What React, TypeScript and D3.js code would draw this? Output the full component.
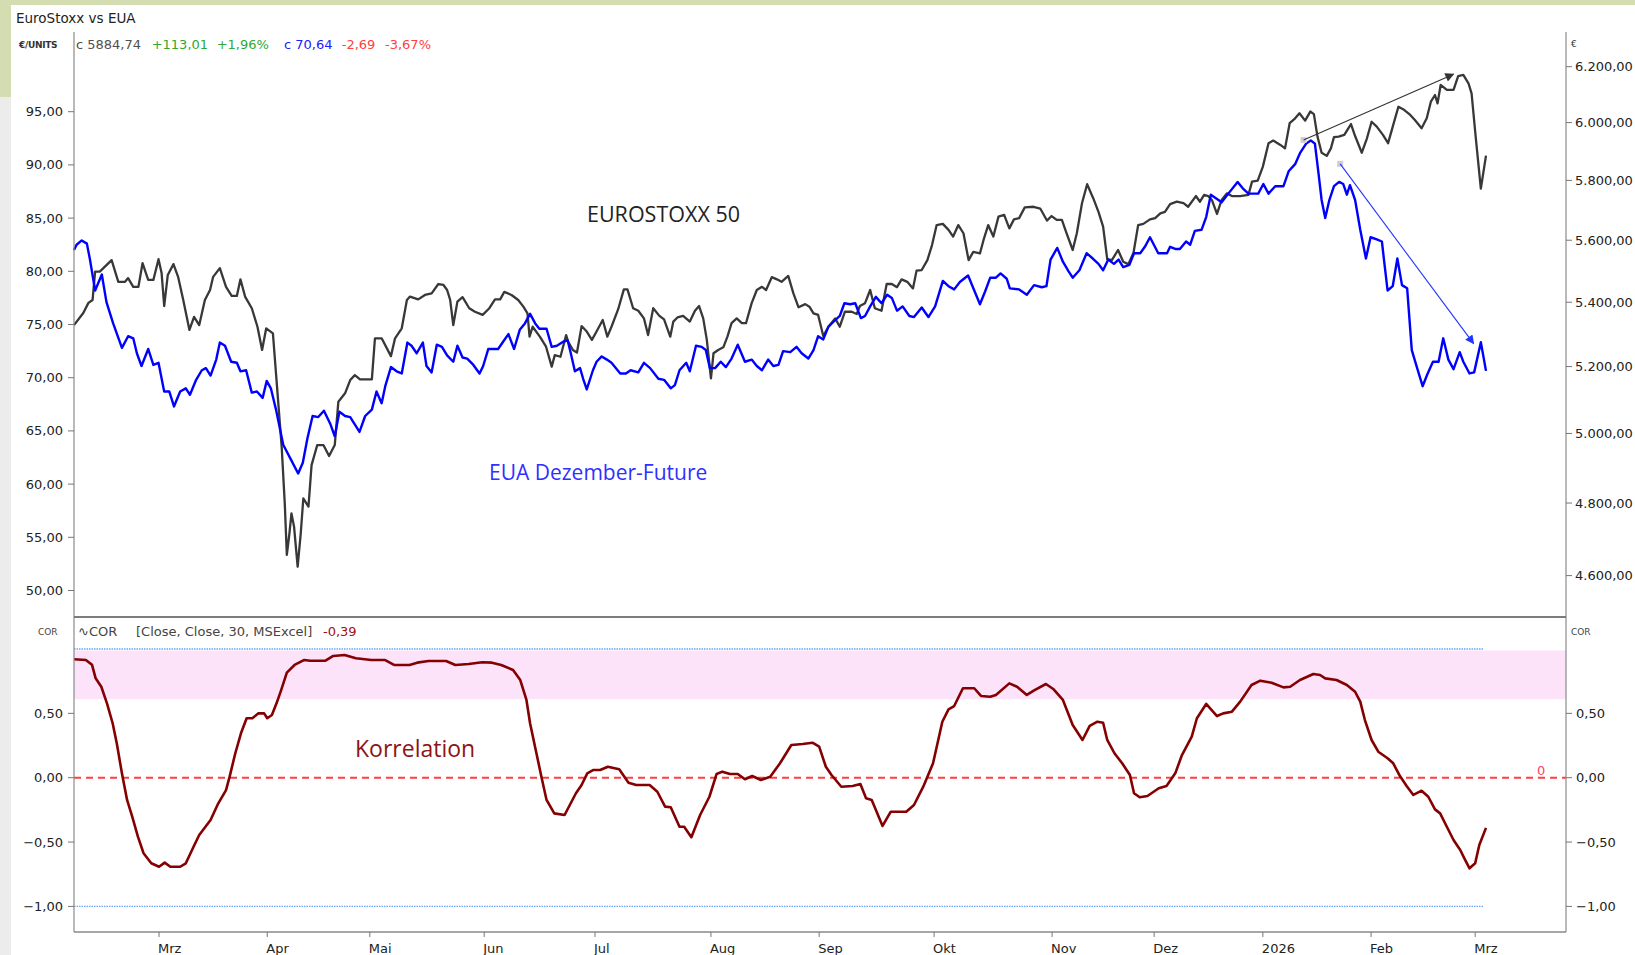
import React from 'react';
import * as d3 from 'd3';

const W = 1635;
const H = 955;

// trading-day index, value
const stoxx: [number, number][] = [[0,5328],[1.8,5366],[2.8,5398],[3.6,5407],[4.1,5498],[5,5498],[6,5514],[7.3,5535],[8.6,5465],[9.9,5465],[10.5,5477],[11.5,5449],[12.5,5449],[13.3,5525],[14.4,5471],[15.4,5471],[16.4,5538],[17,5493],[17.5,5388],[18.2,5487],[19.3,5522],[20.2,5481],[21.2,5407],[22.4,5313],[23.3,5354],[24.3,5328],[25.4,5407],[26.4,5439],[27,5481],[28.3,5509],[29.5,5449],[30.6,5420],[31.6,5420],[32.3,5473],[33.2,5418],[34.5,5381],[35.6,5323],[36.5,5251],[37.3,5318],[38.6,5302],[39.3,5159],[40.3,4961],[40.9,4799],[41.3,4656],[41.8,4715],[42.2,4771],[42.7,4734],[43.4,4624],[44,4715],[44.5,4813],[45.5,4790],[46.1,4908],[47.2,4966],[48.4,4966],[49.5,4934],[50.6,4966],[51.3,5094],[52.6,5119],[53.6,5159],[54.5,5174],[55.5,5161],[57.8,5161],[58.4,5287],[59.7,5287],[61.5,5232],[62.3,5287],[63.6,5318],[64.6,5407],[65.2,5418],[66.8,5409],[68.1,5423],[69.4,5428],[70.7,5458],[71.7,5455],[72.4,5439],[73,5407],[73.6,5328],[74.4,5402],[75.4,5416],[76.7,5381],[77.8,5370],[79.3,5360],[80.6,5381],[81.7,5409],[82.7,5409],[83.5,5433],[84.9,5423],[86.2,5407],[87.2,5386],[88,5365],[88.4,5292],[89,5323],[90.4,5292],[91.6,5261],[92.7,5200],[93.3,5235],[94.4,5230],[95.5,5297],[95.9,5276],[96.8,5251],[97.6,5243],[98.5,5325],[99.5,5308],[100.5,5282],[101.4,5308],[102.6,5344],[103.5,5292],[104.3,5323],[105.6,5378],[106.7,5441],[107.4,5441],[108.5,5381],[109.5,5373],[110.6,5349],[111.4,5297],[112.4,5381],[113.6,5357],[114.5,5346],[115.7,5292],[116.3,5339],[117.1,5352],[118.2,5357],[119.5,5339],[120.5,5373],[121.3,5388],[122.1,5349],[122.8,5282],[123.6,5164],[124.1,5241],[125,5251],[126,5259],[126.8,5292],[127.6,5334],[128.6,5349],[129.6,5334],[130.4,5334],[131.5,5397],[132.5,5439],[133.5,5449],[134.3,5439],[135.4,5480],[136.4,5473],[137.3,5465],[138.6,5484],[139.6,5428],[140.6,5384],[141.9,5394],[142.7,5386],[143.5,5365],[144.4,5360],[145.4,5294],[146.4,5323],[147.7,5349],[148.6,5323],[149.6,5370],[150.9,5370],[151.9,5363],[152.5,5388],[153.5,5397],[154.5,5439],[155.4,5381],[156.7,5373],[157.7,5458],[158.7,5458],[159.7,5448],[160.6,5473],[161.7,5465],[162.8,5444],[163.5,5501],[164.5,5503],[165.6,5535],[166.5,5584],[167.4,5650],[168.6,5654],[169.7,5634],[170.6,5612],[171.6,5650],[172.6,5623],[173.6,5535],[174.5,5562],[175.8,5557],[176.5,5601],[177.4,5650],[178.4,5612],[179.4,5678],[180.5,5684],[181.5,5639],[182.4,5669],[183.4,5673],[184.5,5709],[186.2,5711],[187.5,5705],[188.8,5665],[189.7,5680],[190.7,5667],[191.7,5667],[192.6,5623],[193.8,5568],[194.6,5623],[195.6,5723],[196.6,5787],[197.8,5739],[198.8,5694],[199.7,5645],[200.5,5538],[201.4,5535],[202.6,5568],[203.6,5530],[204.6,5522],[205.6,5559],[206.5,5650],[207.5,5654],[208.8,5669],[209.8,5673],[210.8,5689],[211.7,5694],[212.7,5720],[214,5728],[215.3,5723],[216.2,5711],[217.7,5747],[218.5,5728],[219.3,5751],[220.1,5747],[220.8,5734],[221.8,5687],[222.7,5734],[223.7,5756],[224.7,5747],[226.3,5747],[227.9,5751],[228.6,5796],[229.7,5799],[230.7,5847],[231.8,5928],[232.7,5937],[234.1,5922],[235,5910],[235.9,5998],[236.8,6012],[237.8,6033],[238.9,6007],[239.9,6039],[240.6,6030],[241.3,5951],[242.1,5895],[243.1,5884],[243.9,5910],[244.5,5949],[245.4,5951],[246.5,5957],[247.8,5995],[248.6,5953],[249.9,5895],[250.9,5945],[251.8,6003],[252.8,5986],[254,5957],[255,5928],[256,5992],[257,6056],[258.1,6045],[259.3,6027],[260.2,6009],[261.5,5980],[262.5,6015],[263.3,6074],[264.1,6098],[264.6,6068],[265.2,6134],[266.4,6116],[267.7,6116],[268.6,6166],[269.6,6170],[270.6,6140],[271.2,6104],[272,5950],[273,5772],[274,5885]];

const eua: [number, number][] = [[0,82.0],[0.5,82.5],[1.5,82.9],[2.5,82.6],[3.1,81.1],[4.1,78.2],[5.4,79.7],[6.3,77.1],[7.6,75.1],[9.3,72.8],[10.5,73.9],[11.5,73.7],[12.2,72.3],[13.1,71.1],[14.4,72.7],[15.4,71.2],[16.4,71.4],[17.5,68.7],[18.5,68.7],[19.4,67.3],[20.6,68.7],[21.7,69.0],[22.5,68.4],[23.7,69.8],[24.8,70.7],[25.6,70.9],[26.5,70.2],[27.6,71.7],[28.3,73.3],[29.3,73.0],[30.5,71.5],[31.6,71.4],[32.3,70.6],[33.4,70.7],[34.5,68.6],[35.5,68.7],[36.6,68.1],[37.4,69.7],[38.2,69.0],[39.2,67.0],[40.6,63.7],[42.1,62.3],[43.5,61.0],[44.4,62.0],[45.3,64.3],[46.3,66.4],[47.4,66.3],[48.5,66.9],[49.7,65.7],[50.6,64.5],[51.5,66.8],[52.6,66.4],[53.6,66.3],[55.4,64.9],[56.5,66.4],[57.8,67.0],[58.7,68.7],[59.7,67.6],[60.4,69.2],[61.5,71.0],[62.6,70.6],[63.6,70.4],[64.7,73.3],[65.5,73.0],[66.5,72.3],[67.7,73.3],[68.4,71.1],[69.4,70.5],[70.4,73.1],[71.4,72.9],[72.4,72.1],[73.6,71.5],[74.4,73.0],[75.4,71.9],[76.3,71.8],[77.5,71.2],[78.7,70.4],[79.4,71.1],[80.4,72.7],[82.3,72.7],[83.3,73.4],[84.3,74.1],[85.4,72.7],[86.5,74.5],[87.5,75.1],[88.5,76.0],[89.5,75.1],[90.3,74.6],[91.7,74.6],[92.7,72.9],[93.7,73.0],[95,73.4],[95.8,73.5],[96.4,72.3],[97.2,70.6],[98.2,70.9],[98.8,69.9],[99.5,68.9],[100.7,70.7],[101.4,71.5],[102.4,72.0],[103.4,71.7],[104.3,71.4],[106,70.4],[107.1,70.4],[108,70.7],[109.5,70.5],[110.6,71.4],[111.8,70.9],[113.4,69.9],[114.5,69.8],[115.8,69.0],[116.6,69.3],[117.5,70.7],[118.8,71.4],[119.5,70.6],[120.7,73.0],[121.8,72.9],[122.6,72.6],[123.4,70.9],[124.4,70.9],[125.5,71.5],[126.5,71.0],[127.6,71.8],[128.8,73.1],[130.2,71.5],[131.5,71.7],[132.5,71.1],[133.5,70.7],[134.7,71.7],[135.7,71.1],[136.7,71.2],[137.6,72.5],[139,72.4],[140.2,72.9],[141.2,72.3],[142.5,71.8],[143.5,72.6],[144.4,73.9],[145.4,73.6],[146.4,74.8],[147.7,75.4],[148.6,75.8],[149.5,77.0],[150.6,76.9],[151.6,77.0],[152.7,75.6],[153.5,75.8],[154.5,76.7],[155.6,77.6],[156.7,77.0],[157.8,77.8],[158.7,77.5],[159.7,76.3],[160.8,76.7],[162.1,75.8],[163,75.7],[164.5,76.6],[165.8,75.7],[167.1,76.7],[168.6,79.1],[169.7,78.6],[170.8,78.3],[171.9,79.0],[173.5,79.6],[174.7,78.2],[175.8,76.9],[176.8,78.1],[177.8,79.4],[178.9,79.4],[179.8,79.8],[181,79.3],[181.6,78.4],[183.4,78.3],[184.9,77.8],[186.3,78.7],[187.8,78.5],[188.7,78.6],[189.5,81.1],[190.8,82.2],[191.9,80.9],[193,80.0],[193.8,79.4],[195.1,80.1],[196.5,81.7],[197.7,81.2],[198.8,80.7],[199.7,80.1],[200.7,81.1],[201.8,80.7],[202.7,81.1],[203.6,80.4],[204.8,80.6],[205.7,81.7],[206.9,81.7],[207.8,82.3],[208.8,83.2],[210.4,81.7],[212.1,81.7],[212.7,82.3],[213.7,82.1],[214.6,82.1],[215.8,82.8],[216.6,82.5],[217.5,83.8],[218.8,83.9],[219.7,85.1],[220.6,87.2],[221.8,86.8],[222.7,86.5],[224,87.3],[225.8,88.4],[226.8,87.8],[227.9,87.3],[229.8,87.3],[230.8,88.2],[231.8,87.3],[233.1,88.0],[234.7,88.0],[235.7,89.4],[237,90.1],[237.9,91.1],[239.1,92.0],[240,92.3],[240.8,92.0],[241.5,89.2],[242.1,86.7],[242.8,85.0],[243.6,86.7],[244.5,88.0],[245.5,88.4],[246.3,88.2],[247,87.2],[247.6,88.1],[248.6,86.7],[249.6,83.9],[250.7,81.2],[251.6,83.2],[252.8,83.0],[253.8,82.8],[254.2,81.1],[254.9,78.2],[255.9,78.6],[256.8,81.2],[257.7,78.7],[258.7,78.4],[259.6,72.6],[260.7,70.8],[261.7,69.2],[262.6,70.3],[263.7,71.5],[264.8,71.5],[265.7,73.7],[266.7,71.7],[267.7,70.8],[268.9,72.4],[269.6,71.5],[270.8,70.4],[271.7,70.5],[273,73.33],[274,70.64]];

const corr: [number, number][] = [[0,0.92],[2.3,0.915],[3.5,0.877],[4.2,0.772],[5.3,0.707],[6.4,0.578],[7.5,0.423],[8.3,0.267],[9.3,0.034],[10.3,-0.173],[11.3,-0.303],[12.4,-0.458],[13.5,-0.587],[15,-0.665],[16.5,-0.692],[17.6,-0.66],[18.7,-0.692],[20.6,-0.692],[21.7,-0.665],[23.2,-0.536],[24.3,-0.445],[26.5,-0.329],[28,-0.199],[29.5,-0.096],[30.2,0.008],[31.3,0.19],[32.4,0.345],[33.5,0.462],[34.6,0.462],[35.8,0.5],[36.9,0.5],[37.5,0.462],[38.4,0.487],[39.3,0.578],[40.2,0.681],[41.3,0.816],[42.8,0.876],[44.7,0.915],[45.8,0.909],[48.8,0.909],[50.3,0.946],[52.5,0.953],[54.7,0.928],[57.7,0.915],[60.3,0.915],[62.1,0.876],[65.1,0.876],[66.6,0.894],[68.8,0.907],[72.2,0.907],[74,0.876],[76.6,0.883],[79.2,0.897],[81.1,0.894],[82.9,0.876],[85.2,0.837],[86.6,0.759],[87.8,0.604],[88.5,0.423],[89.6,0.215],[90.7,0.008],[91.7,-0.173],[93.2,-0.277],[95.2,-0.29],[97.4,-0.121],[98.5,-0.057],[99.6,0.034],[100.8,0.06],[102.1,0.06],[103.6,0.085],[105.8,0.065],[107.6,-0.039],[109.1,-0.057],[111.7,-0.057],[113.2,-0.109],[114.7,-0.225],[115.8,-0.23],[117.5,-0.381],[118.4,-0.381],[119.8,-0.463],[121.5,-0.29],[123.3,-0.148],[124.7,0.029],[125.8,0.047],[127.3,0.029],[128.8,0.029],[130.2,-0.012],[131.6,0.013],[133.3,-0.018],[135.1,0.008],[137,0.112],[139.2,0.254],[141.4,0.262],[143.3,0.272],[144.6,0.241],[145.9,0.085],[147,0.021],[148.9,-0.07],[151.1,-0.064],[152.6,-0.049],[153.7,-0.16],[154.8,-0.173],[156.9,-0.375],[158.5,-0.264],[161.5,-0.264],[163,-0.212],[164.8,-0.07],[166.7,0.112],[168.5,0.435],[169.7,0.531],[170.8,0.557],[172.5,0.695],[174.7,0.695],[176,0.635],[177.8,0.629],[178.9,0.643],[181.5,0.733],[183,0.707],[184.9,0.643],[186.4,0.681],[188.6,0.728],[190.1,0.687],[191.9,0.604],[193.8,0.409],[195.7,0.293],[197.1,0.402],[198.6,0.435],[199.7,0.427],[200.5,0.293],[201.9,0.19],[203.4,0.112],[204.9,0.021],[205.7,-0.121],[206.8,-0.152],[208.3,-0.142],[210.5,-0.082],[212,-0.064],[213.7,0.034],[215,0.176],[216.9,0.319],[217.9,0.462],[219.7,0.573],[221.8,0.479],[223,0.5],[224.7,0.513],[226.3,0.591],[228.5,0.72],[230.2,0.754],[232.4,0.738],[234.7,0.702],[236,0.707],[237.9,0.759],[240.5,0.806],[241.8,0.798],[242.8,0.772],[245,0.759],[247,0.72],[248.6,0.668],[249.6,0.591],[250.5,0.448],[251.8,0.293],[253.1,0.202],[254.9,0.151],[256,0.112],[257.3,0.013],[258.6,-0.064],[259.9,-0.134],[261.5,-0.101],[262.8,-0.148],[264.1,-0.246],[265.1,-0.277],[266.4,-0.381],[267.7,-0.484],[269,-0.562],[269.9,-0.634],[270.8,-0.704],[271.9,-0.665],[272.7,-0.523],[274,-0.39]];

const monthLabels = ['Mrz','Apr','Mai','Jun','Jul','Aug','Sep','Okt','Nov','Dez','2026','Feb','Mrz'];
const monthIdx = [16.5,37.5,57.4,79.6,101.1,123.6,144.6,166.9,189.8,209.6,230.7,251.7,271.9];
const leftTicks = [50,55,60,65,70,75,80,85,90,95];
const rightTicks = [4600,4800,5000,5200,5400,5600,5800,6000,6200];
const corrTicks = [0.5,0,-0.5,-1];
// arrows: [t0, v0, t1, v1]
const stoxxArrow = [238.6, 5939, 267.7, 6173];
const euaArrow = [245.7, 90.1, 271.6, 73.2];
const bandRange = [0.61, 1.0];

const de = d3.formatLocale({ decimal: ',', thousands: '.', grouping: [3], currency: ['', '€'] });
const fmt2 = de.format(',.2f');

const FONT = 'DejaVu Sans';

export default function App() {
  const x = d3.scaleLinear().domain([0, 274]).range([74, 1486]);
  const yL = d3.scaleLinear().domain([50, 95]).range([590.5, 111.7]);
  const yR = d3.scaleLog().domain([4600, 6200]).range([575.6, 66.7]);
  const yC = d3.scaleLinear().domain([-1, 1]).range([906.4, 649]);

  const pL = 74, pR = 1566, pTop = 32, pSep = 617, pBot = 932;

  const lineS = d3.line<[number, number]>().x(d => x(d[0])).y(d => yR(d[1]));
  const lineE = d3.line<[number, number]>().x(d => x(d[0])).y(d => yL(d[1]));
  const lineC = d3.line<[number, number]>().x(d => x(d[0])).y(d => yC(d[1]));

  const sa = { x0: x(stoxxArrow[0]), y0: yR(stoxxArrow[1]), x1: x(stoxxArrow[2]), y1: yR(stoxxArrow[3]) };
  const ea = { x0: x(euaArrow[0]), y0: yL(euaArrow[1]), x1: x(euaArrow[2]), y1: yL(euaArrow[3]) };

  return (
    <svg width={W} height={H} style={{ position: 'absolute', left: 0, top: 0, display: 'block' }} fontFamily={FONT}>
      <defs>
        <marker id="ahBlack" viewBox="0 0 10 10" refX="9" refY="5" markerWidth="12" markerHeight="9" markerUnits="userSpaceOnUse" orient="auto">
          <path d="M0,0 L10,5 L0,10 z" fill="#333" />
        </marker>
        <marker id="ahBlue" viewBox="0 0 10 10" refX="9" refY="5" markerWidth="12" markerHeight="9" markerUnits="userSpaceOnUse" orient="auto">
          <path d="M0,0 L10,5 L0,10 z" fill="#2233ff" />
        </marker>
      </defs>
      {/* frame background */}
      <rect x={0} y={0} width={W} height={H} fill="#ffffff" />
      <rect x={0} y={0} width={W} height={5} fill="#d4dcb2" />
      <rect x={0} y={5} width={11} height={92} fill="#d4dcb2" />
      <rect x={0} y={97} width={11} height={H - 97} fill="#ececec" />

      {/* correlation band and reference lines */}
      <rect x={pL} y={yC(bandRange[1]) + 1.5} width={pR - pL} height={yC(bandRange[0]) - yC(bandRange[1]) - 1.5} fill="#fce3fa" />
      <line x1={pL} x2={x(273.5)} y1={yC(1)} y2={yC(1)} stroke="#6aa6f8" strokeWidth={1.3} strokeDasharray="1.5,1" />
      <line x1={pL} x2={x(273.5)} y1={yC(-1)} y2={yC(-1)} stroke="#6aa6f8" strokeWidth={1.3} strokeDasharray="1.5,1" />
      <line x1={pL} x2={pR} y1={yC(0)} y2={yC(0)} stroke="#ff4040" strokeWidth={2} strokeDasharray="7,5" />
      <text x={1537} y={yC(0) - 3} fontSize={13} fill="#ff4466">0</text>

      {/* price lines */}
      <path d={lineS(stoxx) || ''} fill="none" stroke="#383838" strokeWidth={2.3} strokeLinejoin="round" />
      <path d={lineE(eua) || ''} fill="none" stroke="#0000ff" strokeWidth={2.4} strokeLinejoin="round" />
      <path d={lineC(corr) || ''} fill="none" stroke="#850000" strokeWidth={2.6} strokeLinejoin="round" />

      {/* arrows */}
      <rect x={sa.x0 - 3} y={sa.y0 - 3} width={6} height={6} fill="#cfcfcf" />
      <rect x={ea.x0 - 3} y={ea.y0 - 3} width={6} height={6} fill="#cfcfcf" />
      <line x1={sa.x0} y1={sa.y0} x2={sa.x1} y2={sa.y1} stroke="#333" strokeWidth={1.1} markerEnd="url(#ahBlack)" />
      <line x1={ea.x0} y1={ea.y0} x2={ea.x1} y2={ea.y1} stroke="#2233ff" strokeWidth={1.1} markerEnd="url(#ahBlue)" />

      {/* panel borders */}
      <line x1={pL} x2={pL} y1={pTop} y2={pBot} stroke="#8a8a8a" strokeWidth={1.2} />
      <line x1={pR} x2={pR} y1={pTop} y2={pBot} stroke="#8a8a8a" strokeWidth={1.2} />
      <line x1={pL} x2={pR} y1={pSep} y2={pSep} stroke="#7c7c7c" strokeWidth={2.2} />
      <line x1={pL} x2={pR} y1={pBot} y2={pBot} stroke="#8a8a8a" strokeWidth={1.5} />

      {/* left axis (EUA) */}
      {leftTicks.map(v => (
        <g key={'l' + v}>
          <line x1={pL - 6} x2={pL} y1={yL(v)} y2={yL(v)} stroke="#777" />
          <text x={63} y={yL(v)} dy="0.35em" textAnchor="end" fontSize={13} fill="#222">{fmt2(v)}</text>
        </g>
      ))}
      {/* right axis (EuroStoxx, log) */}
      {rightTicks.map(v => (
        <g key={'r' + v}>
          <line x1={pR} x2={pR + 6} y1={yR(v)} y2={yR(v)} stroke="#777" />
          <text x={1575} y={yR(v)} dy="0.35em" fontSize={13} fill="#222">{fmt2(v)}</text>
        </g>
      ))}
      {/* correlation axes */}
      {corrTicks.map(v => (
        <g key={'c' + v}>
          <line x1={pL - 6} x2={pL} y1={yC(v)} y2={yC(v)} stroke="#777" />
          <text x={63} y={yC(v)} dy="0.35em" textAnchor="end" fontSize={13} fill="#222">{fmt2(v)}</text>
          <line x1={pR} x2={pR + 6} y1={yC(v)} y2={yC(v)} stroke="#777" />
          <text x={1576} y={yC(v)} dy="0.35em" fontSize={13} fill="#222">{fmt2(v)}</text>
        </g>
      ))}
      {/* month axis */}
      {monthIdx.map((t, i) => (
        <g key={'m' + i}>
          <line x1={x(t)} x2={x(t)} y1={pBot} y2={pBot + 5} stroke="#777" />
          <text x={x(t) - 1} y={953} fontSize={13} fill="#222">{monthLabels[i]}</text>
        </g>
      ))}

      {/* header texts */}
      <text x={16} y={23} fontSize={13.5} fill="#222">EuroStoxx vs EUA</text>
      <text x={19} y={47.5} fontSize={9} fill="#333" fontWeight="bold" letterSpacing={-0.3}>€/UNITS</text>
      <text x={1571} y={47} fontSize={9} fill="#333">€</text>
      <text x={76} y={49} fontSize={13} fill="#505050">c 5884,74</text>
      <text x={151.7} y={49} fontSize={13} fill="#2fa82f">+113,01</text>
      <text x={216.7} y={49} fontSize={13} fill="#2fa82f">+1,96%</text>
      <text x={284} y={49} fontSize={13} fill="#2020ff">c 70,64</text>
      <text x={341.7} y={49} fontSize={13} fill="#ff4040">-2,69</text>
      <text x={385} y={49} fontSize={13} fill="#ff4040">-3,67%</text>

      <text x={38} y={634.5} fontSize={9} fill="#444">COR</text>
      <text x={1571} y={634.5} fontSize={9} fill="#444">COR</text>
      <text x={78} y={636} fontSize={13} fill="#444">∿COR</text>
      <text x={136} y={636} fontSize={13} fill="#444">[Close, Close, 30, MSExcel]</text>
      <text x={323} y={636} fontSize={13} fill="#a01010">-0,39</text>

      {/* annotations */}
      <text x={587} y={221.5} fontSize={21.5} fontFamily="Open Sans" fill="#222">EUROSTOXX 50</text>
      <text x={489} y={480} fontSize={21} fontFamily="Open Sans" fill="#3030ff">EUA Dezember-Future</text>
      <text x={355} y={756.5} fontSize={23} fontFamily="Open Sans" fill="#8b1515">Korrelation</text>
    </svg>
  );
}
